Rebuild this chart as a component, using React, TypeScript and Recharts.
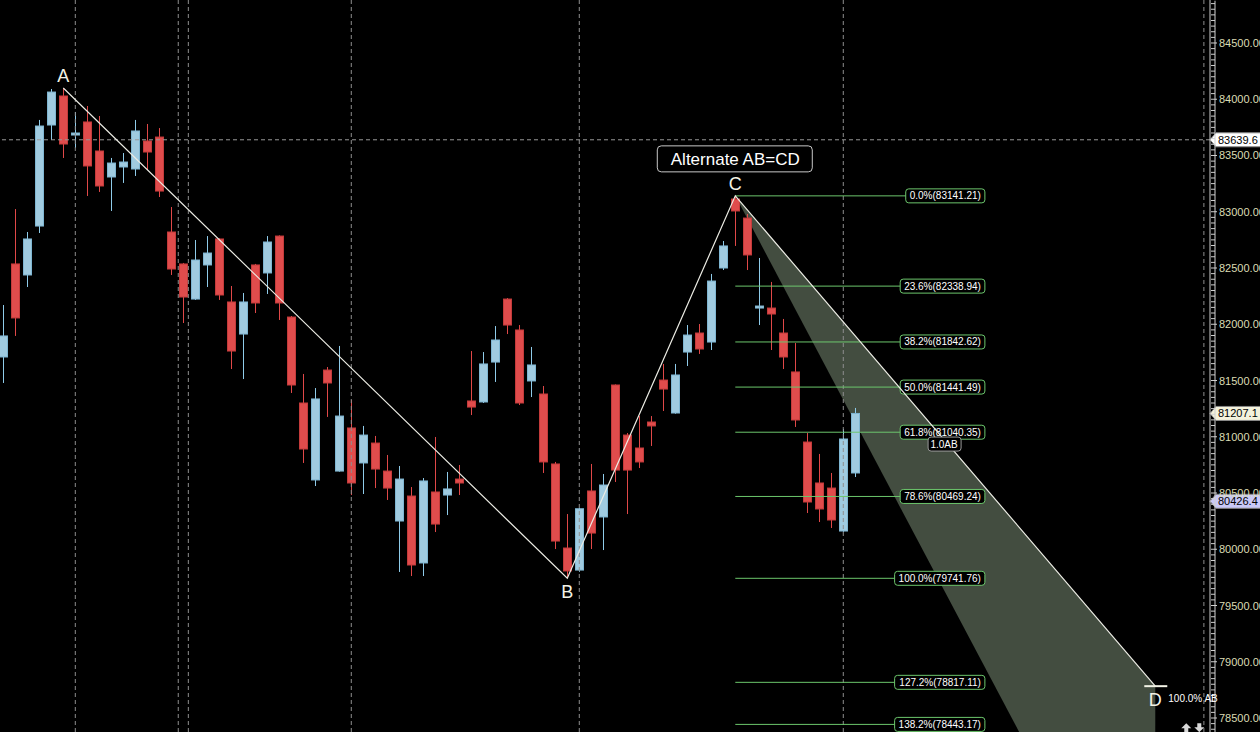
import React from 'react';
import {
  ComposedChart,
  Bar,
  Line,
  Area,
  XAxis,
  YAxis,
  ReferenceLine,
  ReferenceDot,
} from 'recharts';

// daily bars (index = bar number from the left edge)
const opens = [
  81709, 82536, 82438, 82873, 83771, 84029, 83682, 83798, 83540, 83309,
  83398, 83380, 83629, 83664, 82820, 82536, 82224, 82527, 82758, 82198,
  81913, 82527, 82456, 82784, 82064, 81300, 80616, 81593, 80695, 81078,
  80767, 80944, 80695, 80251, 80473, 79878, 80509, 80482, 80624, 81318,
  81309, 81664, 82224, 81949, 81496, 81380, 80758, 80011, 79815, 80518,
  80287, 81460, 81015, 80900, 81131, 81504, 81211, 81753, 81922, 81842,
  82500, 83113, 82944, 82144, 82144, 81922, 81576, 80953, 80589, 80544,
  80162, 80678,
];
const highs = [
  82171, 83024, 82820, 83816, 84091, 84100, 83887, 83940, 83851, 83478,
  83522, 83816, 83780, 83744, 83042, 82545, 82749, 82784, 82765, 82340,
  82278, 82536, 82784, 82790, 82073, 81558, 81433, 81620, 81807, 81327,
  81096, 81007, 80838, 80740, 80553, 80633, 80998, 80687, 80749, 81762,
  81753, 81984, 82233, 81993, 81798, 81451, 80776, 80313, 80367, 80758,
  80669, 81465, 81033, 81184, 81184, 81647, 81647, 81993, 82002, 82447,
  82740, 83141.21, 82980, 82589, 82376, 82047, 81833, 81033, 80847, 80678,
  81069, 81256,
];
const lows = [
  81478, 81896, 82331, 82811, 83638, 83478, 83567, 83140, 83176, 83007,
  83256, 83318, 83371, 83131, 82438, 82011, 82216, 82331, 82216, 81602,
  81513, 82100, 82269, 82038, 81389, 80767, 80562, 81176, 80690, 80482,
  80491, 80544, 80438, 79798, 79762, 79762, 80153, 80304, 80482, 81193,
  81300, 81487, 81913, 81282, 81353, 80678, 80002, 79741.76, 79800, 80002,
  79993, 80598, 80313, 80722, 80918, 81229, 81205, 81629, 81736, 81771,
  82482, 82696, 82482, 81993, 81771, 81602, 81087, 80322, 80242, 80189,
  80155, 80642,
];
const closes = [
  81896, 82056, 82758, 83762, 84064, 83602, 83700, 83407, 83229, 83433,
  83442, 83718, 83531, 83184, 82491, 82242, 82571, 82633, 82260, 81762,
  82198, 82189, 82731, 82189, 81460, 80891, 81336, 81478, 81184, 80589,
  81015, 80713, 80544, 80624, 79860, 80607, 80224, 80536, 80589, 81264,
  81647, 81860, 81993, 81300, 81638, 80776, 80073, 79807, 80360, 80144,
  80571, 80704, 80704, 80776, 81096, 81424, 81549, 81904, 81780, 82384,
  82696, 83007, 82616, 82162, 82091, 81709, 81149, 80420, 80358, 80260,
  80980, 81207.1,
];

// pattern pivots A, B, C, D (bar index / price)
const pivotNames = ['A', 'B', 'C', 'D'];
const pivotBars = [5, 47, 61, 96];
const pivotPrices = [84100, 79741.76, 83141.21, 78782.97];
const zoneLow = 76089.6; // 1.618 AB from C, lower edge of the projection

// retracement / extension levels of BC, drawn from C
const fibNames = ['0.0%', '23.6%', '38.2%', '50.0%', '61.8%', '78.6%', '100.0%', '127.2%', '138.2%'];
const fibPrices = [83141.21, 82338.94, 81842.62, 81441.49, 81040.35, 80469.24, 79741.76, 78817.11, 78443.17];

// session separators (bar positions)
const separators = [6, 14.58, 15.42, 29, 48, 70, 100.05];

const priceTicks = [78500, 79000, 79500, 80000, 80500, 81000, 81500, 82000, 82500, 83000, 83500, 84000, 84500];
const markerPrices = [83639.6, 81207.1, 80426.4];
const markerFills = ['#ffffff', '#f4f2dc', '#c9c9f7'];

const W = 1260;
const H = 732;
const AXIS_X = 1210;
const FONT = '"Liberation Sans", Arial, sans-serif';
const FIB_GREEN = '#6cc66c';
const FIB_END = 81.8;

const candles = opens.map((o, i) => ({
  x: i,
  range: [lows[i], highs[i]],
  open: o,
  close: closes[i],
  high: highs[i],
  low: lows[i],
}));

const patternLine = pivotBars.map((b, i) => ({ x: b, v: pivotPrices[i], name: pivotNames[i] }));
const zone = [
  { x: pivotBars[2], band: [pivotPrices[2], pivotPrices[2]] },
  { x: pivotBars[3], band: [zoneLow, pivotPrices[3]] },
];

const minorTicks: number[] = [];
for (let p = 78400; p <= 84850; p += 50) minorTicks.push(p);

const charW: Record<string, number> = { '.': 2.78, '%': 8.89, '(': 3.33, ')': 3.33 };
const tagWidth = (s: string) =>
  s.split('').reduce((w, ch) => w + (charW[ch] ?? 5.56), 0) + 8;

const noDot = () => <g />;

function Candle(props: any) {
  const { x, y, width, height, payload } = props;
  if (x == null || y == null) return null;
  const { open, close, high, low } = payload;
  const top = Math.min(y, y + height);
  const h = Math.abs(height);
  const k = high === low ? 0 : h / (high - low);
  const py = (v: number) => top + (high - v) * k;
  const cx = Math.round(x + width / 2) + 0.5;
  const up = close >= open;
  const bTop = py(Math.max(open, close));
  const bBot = py(Math.min(open, close));
  const wick = up ? '#8fcbe9' : '#e04848';
  return (
    <g>
      <line x1={cx} x2={cx} y1={top} y2={top + h} stroke={wick} strokeWidth={1} />
      <rect
        x={cx - 4}
        y={bTop}
        width={8}
        height={Math.max(bBot - bTop, 1.5)}
        fill={up ? '#a0cbe0' : '#e04c4c'}
        stroke={up ? '#7fb6d2' : '#c43b3b'}
        strokeWidth={1}
      />
    </g>
  );
}

function PriceTick(props: any) {
  const { y, payload } = props;
  const v = payload.value;
  const major = priceTicks.includes(v);
  return (
    <g>
      <line x1={AXIS_X + 1} x2={AXIS_X + (major ? 7 : 5)} y1={y} y2={y} stroke="#d0d0d0" />
      <line x1={AXIS_X + 5} x2={AXIS_X + 5} y1={y - 2.9} y2={y + 2.9} stroke="#d0d0d0" />
      {major && (
        <text x={AXIS_X + 9} y={y + 4} fill="#dcdcb4" fontSize={11} fontFamily={FONT}>
          {v.toFixed(2)}
        </text>
      )}
    </g>
  );
}

function FibTag(props: any) {
  const { viewBox, text } = props;
  if (!viewBox) return null;
  const right = viewBox.x + viewBox.width;
  const y = viewBox.y;
  const w = tagWidth(text);
  return (
    <g>
      <rect x={right - w} y={y - 7} width={w} height={14} rx={3} fill="#000" stroke={FIB_GREEN} />
      <text x={right - 4} y={y + 3.5} textAnchor="end" fill="#ffffff" fontSize={10} fontFamily={FONT}>
        {text}
      </text>
    </g>
  );
}

function PriceFlag(props: any) {
  const { viewBox, text, fill } = props;
  if (!viewBox) return null;
  const x = viewBox.x + viewBox.width;
  const y = viewBox.y;
  return (
    <g>
      <polygon
        points={`${x},${y} ${x + 6},${y - 7} ${W + 2},${y - 7} ${W + 2},${y + 7} ${x + 6},${y + 7}`}
        fill={fill}
        stroke="#888"
      />
      <text x={x + 8} y={y + 4} fill="#000" fontSize={11} fontFamily={FONT}>
        {text}
      </text>
    </g>
  );
}

function PivotTag(props: any) {
  const { x, y, index } = props;
  if (x == null || y == null) return null;
  const text = pivotNames[index];
  const cx = Number(x);
  const cy = Number(y);
  const below = text === 'B' || text === 'D';
  return (
    <g>
      <text
        x={cx}
        y={below ? cy + 20 : cy - 6}
        textAnchor="middle"
        fill="#f3f3e6"
        fontSize={18}
        fontFamily={FONT}
      >
        {text}
      </text>
      {text === 'C' && (
        <g>
          <rect x={cx - 78} y={cy - 50} width={155} height={26} rx={4} fill="#000" stroke="#c8c8c8" />
          <text x={cx} y={cy - 31} textAnchor="middle" fill="#ffffff" fontSize={17} fontFamily={FONT}>
            Alternate AB=CD
          </text>
        </g>
      )}
      {text === 'D' && (
        <g>
          <line x1={cx - 11} x2={cx + 12} y1={cy} y2={cy} stroke="#f3f3e6" strokeWidth={2} />
          <text x={cx + 13} y={cy + 16} fill="#ffffff" fontSize={10} fontFamily={FONT}>
            100.0% AB
          </text>
          {/* scroll arrows in the bottom-right corner */}
          <path
            d={`M${cx + 31},${cy + 37} l-5,5 h3 v4 h4 v-4 h3 z`}
            fill="#d8d8d8"
          />
          <path
            d={`M${cx + 44},${cy + 46} l-5,-5 h3 v-4 h4 v4 h3 z`}
            fill="#d8d8d8"
          />
        </g>
      )}
    </g>
  );
}

function AbTag(props: any) {
  const { viewBox } = props;
  if (!viewBox) return null;
  const cx = viewBox.x + viewBox.width / 2;
  const cy = viewBox.y + viewBox.height / 2;
  return (
    <g>
      <rect x={cx - 16} y={cy - 7} width={33} height={14} rx={3} fill="#000" stroke="#9a9a9a" />
      <text x={cx} y={cy + 4} textAnchor="middle" fill="#ffffff" fontSize={10} fontFamily={FONT}>
        1.0AB
      </text>
    </g>
  );
}

export default function App() {
  return (
    <div style={{ position: 'absolute', left: 0, top: 0, width: W, height: H, background: '#000', overflow: 'hidden' }}>
      <ComposedChart width={W} height={H} data={candles} margin={{ top: 0, right: 0, bottom: 0, left: 0 }}>
        <XAxis type="number" dataKey="x" domain={[-0.275, 100.56]} allowDataOverflow hide />
        <YAxis
          orientation="right"
          width={50}
          type="number"
          domain={[78375.6, 84882.2]}
          allowDataOverflow
          ticks={minorTicks}
          interval={0}
          tick={<PriceTick />}
          tickLine={false}
          axisLine={{ stroke: '#d0d0d0' }}
        />
        {separators.map((s) => (
          <ReferenceLine key={s} x={s} stroke="#8e8e8e" strokeDasharray="4 3" />
        ))}
        <Area
          data={zone}
          dataKey="band"
          type="linear"
          stroke="none"
          fill="#434d40"
          fillOpacity={1}
          dot={false}
          activeDot={false}
          isAnimationActive={false}
        />
        <ReferenceDot x={78.4} y={80935} r={0} shape={noDot} label={<AbTag />} />
        {fibPrices.map((p, i) => (
          <ReferenceLine
            key={fibNames[i]}
            segment={[
              { x: pivotBars[2], y: p },
              { x: FIB_END, y: p },
            ]}
            stroke={FIB_GREEN}
            label={<FibTag text={`${fibNames[i]}(${p.toFixed(2)})`} />}
          />
        ))}
        <ReferenceLine
          y={markerPrices[0]}
          stroke="#9a9a9a"
          strokeDasharray="4 3"
          label={<PriceFlag text={markerPrices[0].toFixed(1)} fill={markerFills[0]} />}
        />
        {markerPrices.slice(1).map((p, i) => (
          <ReferenceLine
            key={p}
            y={p}
            stroke="none"
            label={<PriceFlag text={p.toFixed(1)} fill={markerFills[i + 1]} />}
          />
        ))}
        <Bar dataKey="range" barSize={8} shape={<Candle />} activeBar={false} isAnimationActive={false} />
        <Line
          data={patternLine}
          dataKey="v"
          type="linear"
          stroke="#ecece4"
          strokeWidth={1.2}
          dot={false}
          activeDot={false}
          label={<PivotTag />}
          isAnimationActive={false}
        />
      </ComposedChart>
    </div>
  );
}
